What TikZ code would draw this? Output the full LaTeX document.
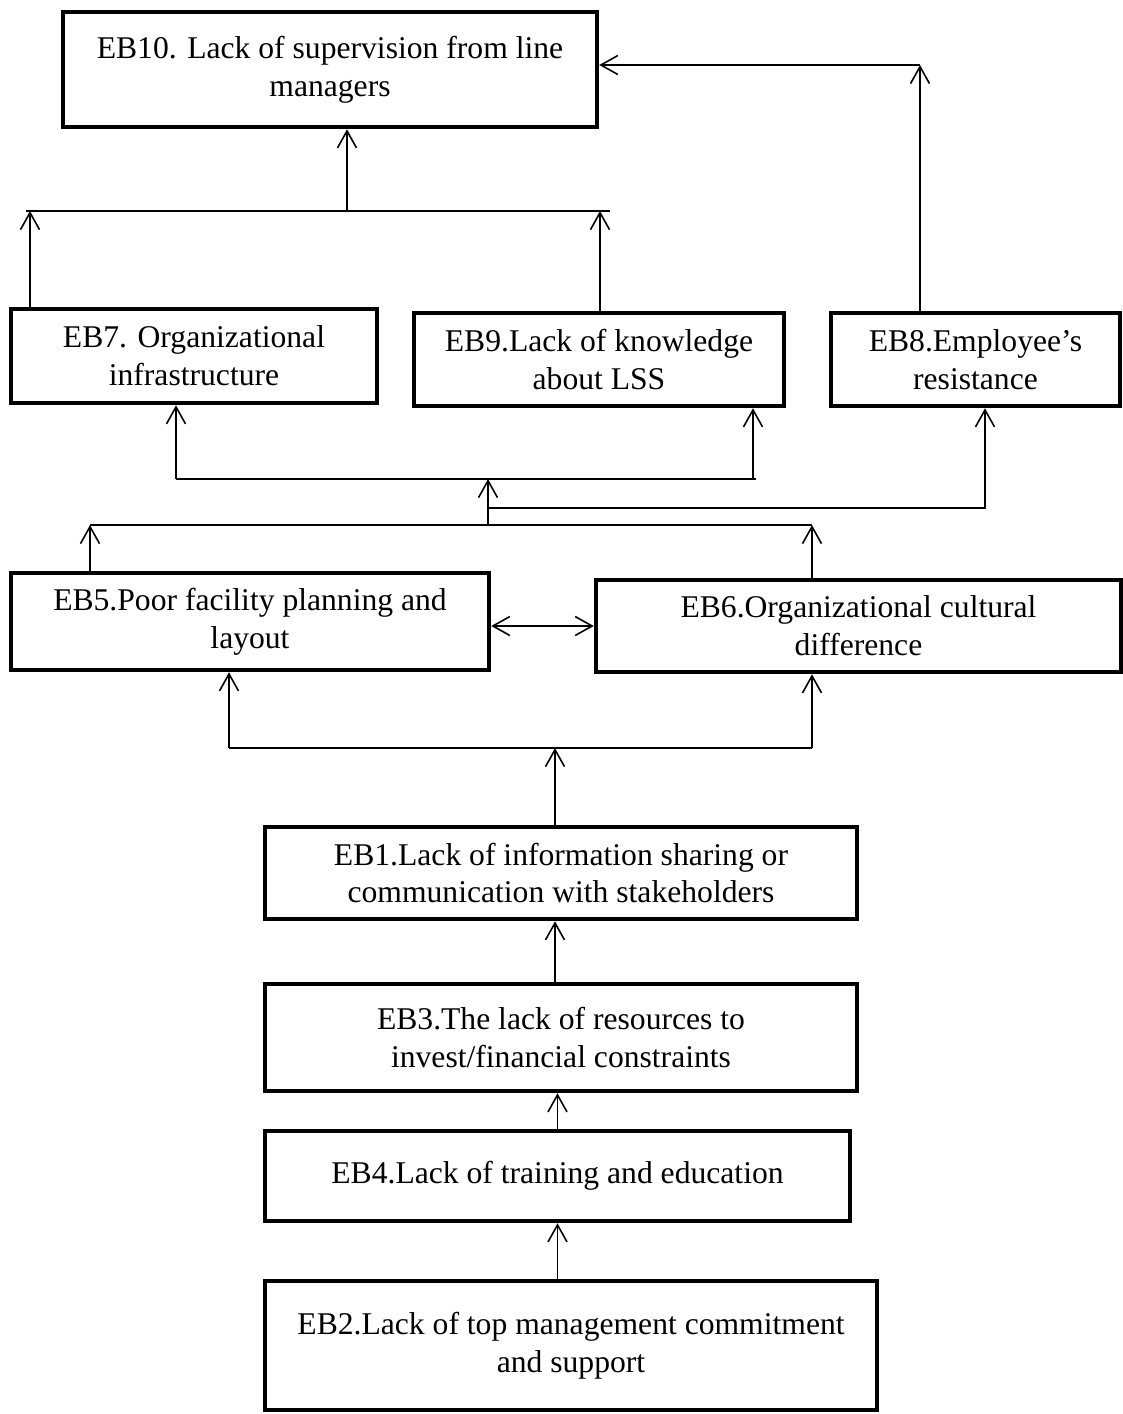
\documentclass[tikz,border=0pt]{standalone}
\usepackage{fontspec}
\setmainfont{Liberation Serif}
\usetikzlibrary{arrows.meta}

\begin{document}
\begin{tikzpicture}[x=0.02cm, y=-0.02cm,
    eb/.style={draw, line width=2.6pt, rectangle, inner sep=0pt, align=center,
        font=\fontsize{18}{21.6}\selectfont},
    arr/.style={line width=0.9pt, -{Straight Barb[length=0.34cm, width=0.38cm]}},
    arrs/.style={line width=0.9pt, {Straight Barb[length=0.34cm, width=0.38cm]}-{Straight Barb[length=0.34cm, width=0.38cm]}},
    bus/.style={line width=0.9pt}]
    \useasboundingbox (0,0) rectangle (1123,1414);

    % Boxes
    \node[eb, minimum width=10.68cm, minimum height=2.30cm] (eb10) at (330,69.5) {EB10. Lack of supervision from line\\managers};
    \node[eb, minimum width=7.32cm, minimum height=1.88cm] (eb7) at (194,356) {EB7. Organizational\\infrastructure};
    \node[eb, minimum width=7.40cm, minimum height=1.86cm] (eb9) at (599,359.5) {EB9.Lack of knowledge\\about LSS};
    \node[eb, minimum width=5.78cm, minimum height=1.86cm] (eb8) at (975.5,359.5) {EB8.Employee’s\\resistance};
    \node[eb, minimum width=9.56cm, minimum height=1.94cm] (eb5) at (250,621.5) {EB5.Poor facility planning and\\layout};
    \node[eb, minimum width=10.50cm, minimum height=1.84cm] (eb6) at (858.5,626) {EB6.Organizational cultural\\difference};
    \node[eb, minimum width=11.84cm, minimum height=1.84cm] (eb1) at (561,873) {EB1.Lack of information sharing or\\communication with stakeholders};
    \node[eb, minimum width=11.84cm, minimum height=2.14cm] (eb3) at (561,1037.5) {EB3.The lack of resources to\\invest/financial constraints};
    \node[eb, minimum width=11.70cm, minimum height=1.80cm] (eb4) at (557.5,1176) {EB4.Lack of training and education};
    \node[eb, minimum width=12.24cm, minimum height=2.58cm] (eb2) at (571,1345.5) {EB2.Lack of top management commitment\\and support};

    % Junctions
    \coordinate (j0) at (555,748);
    \coordinate (j5) at (229,748);
    \coordinate (j6) at (812,748);
    \coordinate (m1) at (90,525);
    \coordinate (m2) at (812,525);
    \coordinate (m0) at (488,525);
    \coordinate (n0) at (488,479);
    \coordinate (n1) at (176,479);
    \coordinate (n2) at (753,479);
    \coordinate (p0) at (488,508);
    \coordinate (p1) at (985,508);
    \coordinate (q1) at (30,211);
    \coordinate (q2) at (600,211);
    \coordinate (q0) at (347,211);
    \coordinate (r1) at (920,65);

    % Stack at the bottom
    \draw[arr] (eb2.north -| eb4.south) -- (eb4.south);
    \draw[arr] (eb4.north) -- (eb4.north |- eb3.south);
    \draw[arr] (eb3.north -| j0) -- (eb1.south -| j0);

    % EB1 to EB5 / EB6
    \draw[arr] (eb1.north -| j0) -- (j0);
    \draw[bus] (j5) -- (j6);
    \draw[arr] (j5) -- (j5 |- eb5.south);
    \draw[arr] (j6) -- (j6 |- eb6.south);
    \draw[arrs] (eb5.east |- eb6) -- (eb6.west);

    % EB5 / EB6 to EB7, EB9, EB8
    \draw[arr] (eb5.north -| m1) -- (m1);
    \draw[arr] (eb6.north -| m2) -- (m2);
    \draw[bus] (m1) -- (m2);
    \draw[arr] (m0) -- (n0);
    \draw[bus] (n1) -- ([xshift=0.06cm]n2);
    \draw[arr] (n1) -- (n1 |- eb7.south);
    \draw[arr] (n2) -- (n2 |- eb9.south);
    \draw[arr] (p0) -- (p1) -- (p1 |- eb8.south);

    % Up to EB10
    \draw[arr] (eb7.north -| q1) -- (q1);
    \draw[arr] (eb9.north -| q2) -- (q2);
    \draw[bus] ([xshift=-0.08cm]q1) -- ([xshift=0.2cm]q2);
    \draw[arr] (q0) -- (q0 |- eb10.south);
    \draw[arr] (eb8.north -| r1) -- (r1);
    \draw[arr] (r1) -- (r1 -| eb10.east);
\end{tikzpicture}
\end{document}
